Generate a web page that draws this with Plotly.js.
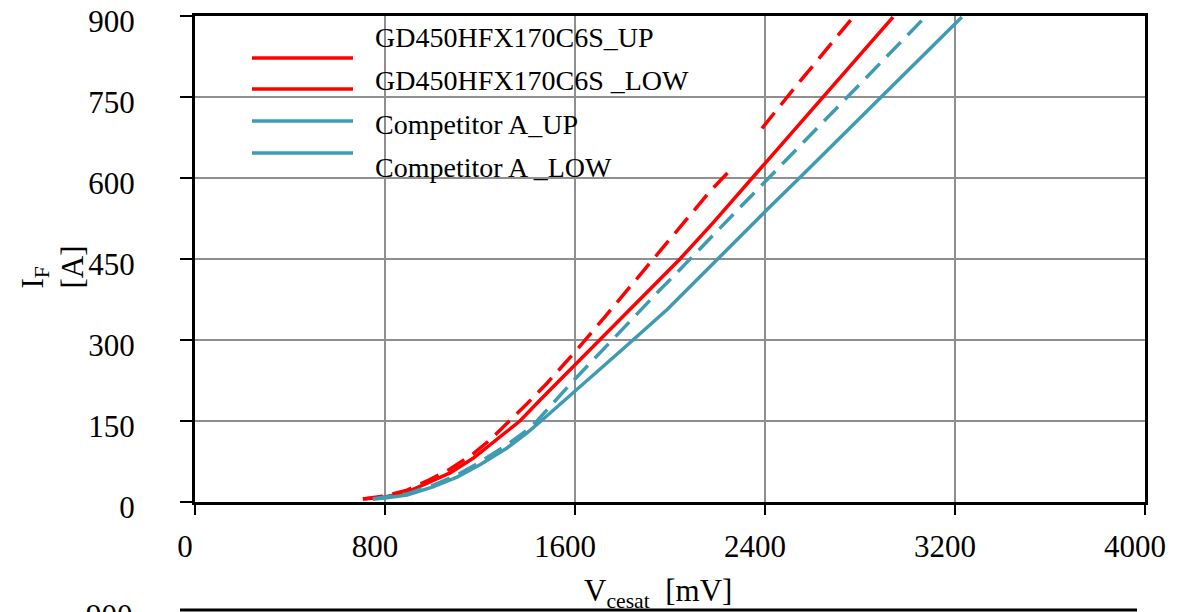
<!DOCTYPE html>
<html>
<head>
<meta charset="utf-8">
<script src="https://cdn.plot.ly/plotly-3.0.1.min.js"></script>
<style>
  html, body { margin: 0; padding: 0; background: #ffffff; }
  #chart { width: 1188px; height: 612px; }
</style>
</head>
<body>
<div id="chart"></div>
<script>
// Forward characteristic I_F vs V_cesat, two modules, upper and lower switch each
const seriesNames = ["GD450HFX170C6S_UP", "GD450HFX170C6S _LOW", "Competitor A_UP", "Competitor A _LOW"];

const gdUpV = [707, 800, 893, 977, 1074, 1171, 1242, 1314, 1368, 1453, 1537, 1705, 1789, 1916, 2042, 2181, 2295, 2379, 2493, 2602, 2686, 2800, 2939];
const gdUpI = [5.6, 9.3, 18.5, 35, 54, 81, 106, 133, 150, 189, 226, 300, 337, 393, 450, 517, 574, 616, 673, 728, 770, 828, 898];

const gdLowV = [707, 800, 893, 977, 1074, 1171, 1242, 1326, 1398, 1482, 1604, 1726, 1802, 1882, 1937, 2008, 2084, 2168, 2261, null, 2387, 2472, 2547, 2623, 2771];
const gdLowI = [5.6, 11, 22, 39, 61, 89, 115, 150, 182, 220, 280, 343, 383, 424, 453, 490, 530, 575, 618, null, 692, 739, 779, 819, 898];

const compUpV = [749, 800, 893, 1002, 1103, 1200, 1314, 1398, 1457, 1655, 1811, 1987, 2126, 2265, 2408, 2547, 2686, 2829, 2968, 3107, 3229];
const compUpI = [5.6, 7.4, 13, 28, 46, 69, 100, 128, 150, 226, 287, 356, 417, 480, 541, 601, 662, 724, 785, 845, 898];

const compLowV = [749, 800, 893, 1002, 1103, 1200, 1314, 1398, 1440, 1592, 1747, 1874, 1958, 2021, 2114, 2181, 2265, 2358, 2434, 2535, 2623, 2716, 2771, 2872, 2939, 3074];
const compLowI = [5.6, 9.3, 15, 31, 50, 74, 106, 133, 150, 224, 296, 356, 393, 421, 464, 494, 532, 574, 609, 655, 694, 736, 761, 807, 837, 898];

const xTicks = [0, 800, 1600, 2400, 3200, 4000];
const yTicks = [0, 150, 300, 450, 600, 750, 900];
const xTickText = ["0", "800", "1600", "2400", "3200", "4000"];
const yTickText = ["0", "150", "300", "450", "600", "750", "900"];

const xTitle = "V<sub>cesat</sub> \u00a0[mV]";
const yTitle = "I<sub>F</sub><br>[A]";

const RED = "#ff0000";
const TEAL = "#3f9bb1";
const SERIF = "Liberation Serif, Times New Roman, serif";

const traces = [
  { x: gdUpV, y: gdUpI, name: seriesNames[0], mode: "lines", line: { color: RED, width: 3.5 } },
  { x: gdLowV, y: gdLowI, name: seriesNames[1], mode: "lines", connectgaps: false,
    line: { color: RED, width: 3.5, dash: "20px,10px" } },
  { x: compUpV, y: compUpI, name: seriesNames[2], mode: "lines", line: { color: TEAL, width: 3.5 } },
  { x: compLowV, y: compLowI, name: seriesNames[3], mode: "lines",
    line: { color: TEAL, width: 3.5, dash: "20px,10px" } }
];

// hand-placed key: white panel over the grid, sample lines, and labels
const keyColors = [RED, RED, TEAL, TEAL];
const keyLineY = [0.9136, 0.8498, 0.784, 0.7181];
const keyTextY = [0.955, 0.868, 0.777, 0.689];

const shapes = [
  { type: "rect", xref: "paper", yref: "paper", x0: 0.0474, x1: 0.6242, y0: 0.648, y1: 0.967,
    fillcolor: "#ffffff", line: { width: 0 }, layer: "between" }
];
keyColors.forEach((c, i) => {
  shapes.push({ type: "line", xref: "paper", yref: "paper", x0: 0.06, x1: 0.1663,
    y0: keyLineY[i], y1: keyLineY[i], line: { color: c, width: 3.5 } });
});
// top edge of the next panel below
shapes.push({ type: "line", xref: "paper", yref: "paper", x0: -0.0158, x1: 0.9916,
  y0: -0.2222, y1: -0.2222, line: { color: "#000000", width: 3 } });

const annotations = seriesNames.map((t, i) => ({
  text: t, xref: "paper", yref: "paper", x: 0.1874, y: keyTextY[i],
  xanchor: "left", yanchor: "middle", showarrow: false,
  font: { family: SERIF, size: 28, color: "#000000" }
}));
// axis titles
annotations.push({
  text: xTitle, xref: "paper", yref: "paper", x: 0.4874, y: -0.1418,
  xanchor: "center", yanchor: "top", showarrow: false,
  font: { family: SERIF, size: 31, color: "#000000" }
});
annotations.push({
  text: yTitle, xref: "paper", yref: "paper", x: -0.1505, y: 0.4825,
  xanchor: "center", yanchor: "middle", textangle: -90, align: "left", showarrow: false,
  font: { family: SERIF, size: 31, color: "#000000" }
});
// top tick label of the next panel below
annotations.push({
  text: "900", xref: "paper", yref: "paper", x: -0.0632, y: -0.193,
  xanchor: "right", yanchor: "top", showarrow: false,
  font: { family: SERIF, size: 31, color: "#000000" }
});

const layout = {
  width: 1188, height: 612,
  margin: { l: 195, r: 43, t: 16, b: 110 },
  paper_bgcolor: "#ffffff", plot_bgcolor: "#ffffff",
  showlegend: false,
  font: { family: SERIF, color: "#000000" },
  xaxis: {
    range: [0, 4000], tickmode: "array", tickvals: xTicks, ticktext: xTickText,
    ticks: "outside", ticklen: 10, tickwidth: 2, tickcolor: "#000000",
    showline: true, linewidth: 3, linecolor: "#000000", mirror: true,
    showgrid: true, gridcolor: "#8f8f8f", gridwidth: 2, zeroline: false,
    tickfont: { family: SERIF, size: 31, color: "#000000" },
    ticklabelshift: -10, ticklabelstandoff: 5, ticklabeloverflow: "allow"
  },
  yaxis: {
    range: [0, 900], tickmode: "array", tickvals: yTicks, ticktext: yTickText,
    ticks: "outside", ticklen: 12, tickwidth: 2, tickcolor: "#000000",
    showline: true, linewidth: 3, linecolor: "#000000", mirror: true,
    showgrid: true, gridcolor: "#8f8f8f", gridwidth: 2, zeroline: false,
    tickfont: { family: SERIF, size: 31, color: "#000000" },
    ticklabelshift: 5, ticklabelstandoff: 39, ticklabeloverflow: "allow"
  },
  shapes: shapes,
  annotations: annotations
};

Plotly.newPlot("chart", traces, layout, { staticPlot: true, displayModeBar: false });
</script>
</body>
</html>
